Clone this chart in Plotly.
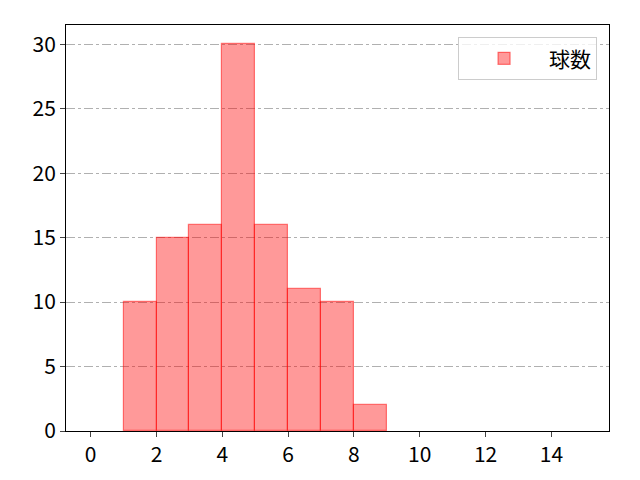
import plotly.graph_objects as go

# pitch count histogram (bins of width 1)
bin_left = [1, 2, 3, 4, 5, 6, 7, 8]
counts = [10, 15, 16, 30, 16, 11, 10, 2]
series_name = "球数"

x_ticks = [0, 2, 4, 6, 8, 10, 12, 14]
y_ticks = [0, 5, 10, 15, 20, 25, 30]

fig = go.Figure()
fig.add_trace(go.Bar(
    x=[b + 0.5 for b in bin_left],
    y=counts,
    width=1,
    name=series_name,
    marker=dict(color="rgba(255,0,0,0.4)",
                line=dict(color="rgba(255,0,0,0.5)", width=1.2)),
    showlegend=True,
))

# page body adds an 8px offset, so the figure is a bit smaller
fig.update_layout(
    width=632, height=472,
    margin=dict(l=58, r=31, t=17, b=40),
    plot_bgcolor="white",
    paper_bgcolor="white",
    font=dict(family="Noto Sans CJK JP", size=21, color="black"),
    bargap=0,
    legend=dict(
        x=0.978, y=0.97, xanchor="right", yanchor="top",
        bordercolor="#cccccc", borderwidth=1,
        font=dict(size=21),
        bgcolor="rgba(255,255,255,0.8)",
        itemwidth=80,
    ),
)
fig.update_xaxes(
    range=[-0.75, 15.75], tickvals=x_ticks,
    showgrid=False, showline=True, linecolor="black", linewidth=1,
    mirror=True, ticks="outside", ticklen=5, zeroline=False,
)
fig.update_yaxes(
    range=[0, 31.5], tickvals=y_ticks,
    showgrid=True, gridcolor="#b0b0b0", griddash="dashdot", gridwidth=1,
    showline=True, linecolor="black", linewidth=1,
    mirror=True, ticks="outside", ticklen=5, zeroline=False,
)

fig.write_html("out.html")
